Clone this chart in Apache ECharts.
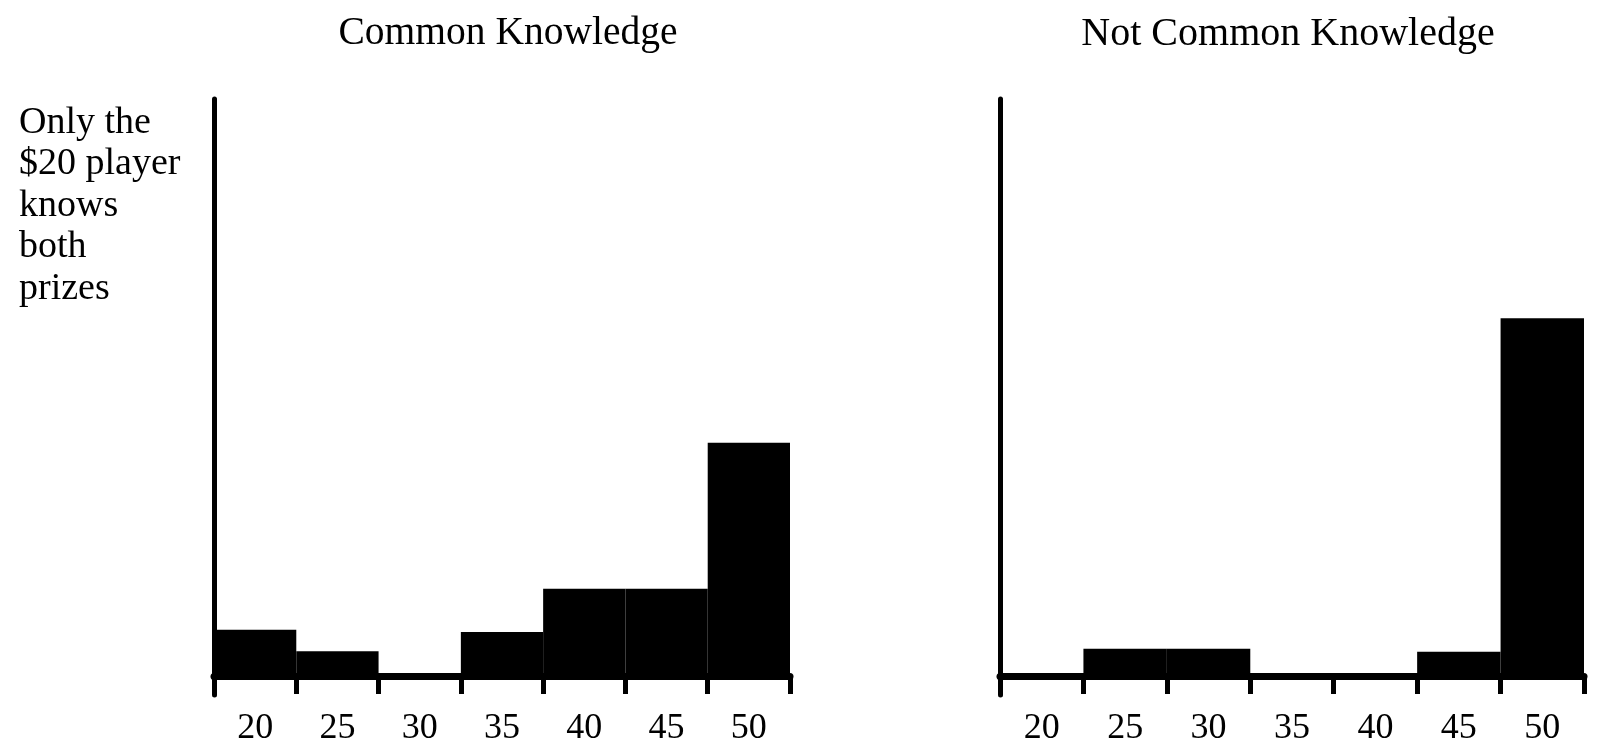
<!DOCTYPE html>
<html>
<head>
<meta charset="utf-8">
<script src="https://cdn.jsdelivr.net/npm/echarts@6/dist/echarts.min.js"></script>
<style>
html,body{margin:0;padding:0;background:#fff;}
#chart{width:1597px;height:747px;}
</style>
</head>
<body>
<div id="chart"></div>
<script>
// Prize bins (dollars)
const categories = ['20', '25', '30', '35', '40', '45', '50'];
// Bar heights (0–100 = share of the drawn axis height)
const commonKnowledge = [8.0, 4.3, 0, 7.6, 15.1, 15.1, 40.4];
const notCommonKnowledge = [0, 4.7, 4.7, 0, 0, 4.2, 62.0];
const panelTitles = ['Common Knowledge', 'Not Common Knowledge'];
const sideNote = 'Only the\n$20 player\nknows\nboth\nprizes';

const FONT = '"Liberation Serif", "DejaVu Serif", serif';
const chart = echarts.init(document.getElementById('chart'), null, {renderer: 'canvas'});

function xAxisFor(gridIndex) {
  return {
    type: 'category', gridIndex: gridIndex, data: categories,
    boundaryGap: true,
    axisLine: {show: true, onZero: true, lineStyle: {color: '#000', width: 7}},
    axisTick: {show: true, length: 18, lineStyle: {color: '#000', width: 5}},
    axisLabel: {color: '#000', fontFamily: FONT, fontSize: 36, margin: 16}
  };
}
function yAxisFor(gridIndex) {
  return {
    type: 'value', gridIndex: gridIndex, min: -3.3, max: 100,
    axisLine: {show: true, lineStyle: {color: '#000', width: 5}},
    axisTick: {show: false}, axisLabel: {show: false}, splitLine: {show: false}
  };
}

chart.setOption({
  animation: false,
  backgroundColor: '#fff',
  title: [
    {text: panelTitles[0], left: 503, top: 9, textAlign: 'center',
     textStyle: {fontFamily: FONT, fontWeight: 'normal', fontSize: 39.5, color: '#000', lineHeight: 40}},
    {text: panelTitles[1], left: 1283, top: 9, textAlign: 'center',
     textStyle: {fontFamily: FONT, fontWeight: 'normal', fontSize: 40, color: '#000', lineHeight: 40}},
    {text: sideNote, left: 14, top: 97,
     textStyle: {fontFamily: FONT, fontWeight: 'normal', fontSize: 38, color: '#000', lineHeight: 41.5}}
  ],
  grid: [
    {left: 214, right: 807, top: 99, bottom: 52, outerBoundsMode: 'none', containLabel: false},
    {left: 1000, right: 13, top: 99, bottom: 52, outerBoundsMode: 'none', containLabel: false}
  ],
  xAxis: [xAxisFor(0), xAxisFor(1)],
  yAxis: [yAxisFor(0), yAxisFor(1)],
  series: [
    {type: 'bar', xAxisIndex: 0, yAxisIndex: 0, data: commonKnowledge,
     barCategoryGap: '0%', itemStyle: {color: '#000'}},
    {type: 'bar', xAxisIndex: 1, yAxisIndex: 1, data: notCommonKnowledge,
     barCategoryGap: '0%', itemStyle: {color: '#000'}}
  ]
});
</script>
</body>
</html>
